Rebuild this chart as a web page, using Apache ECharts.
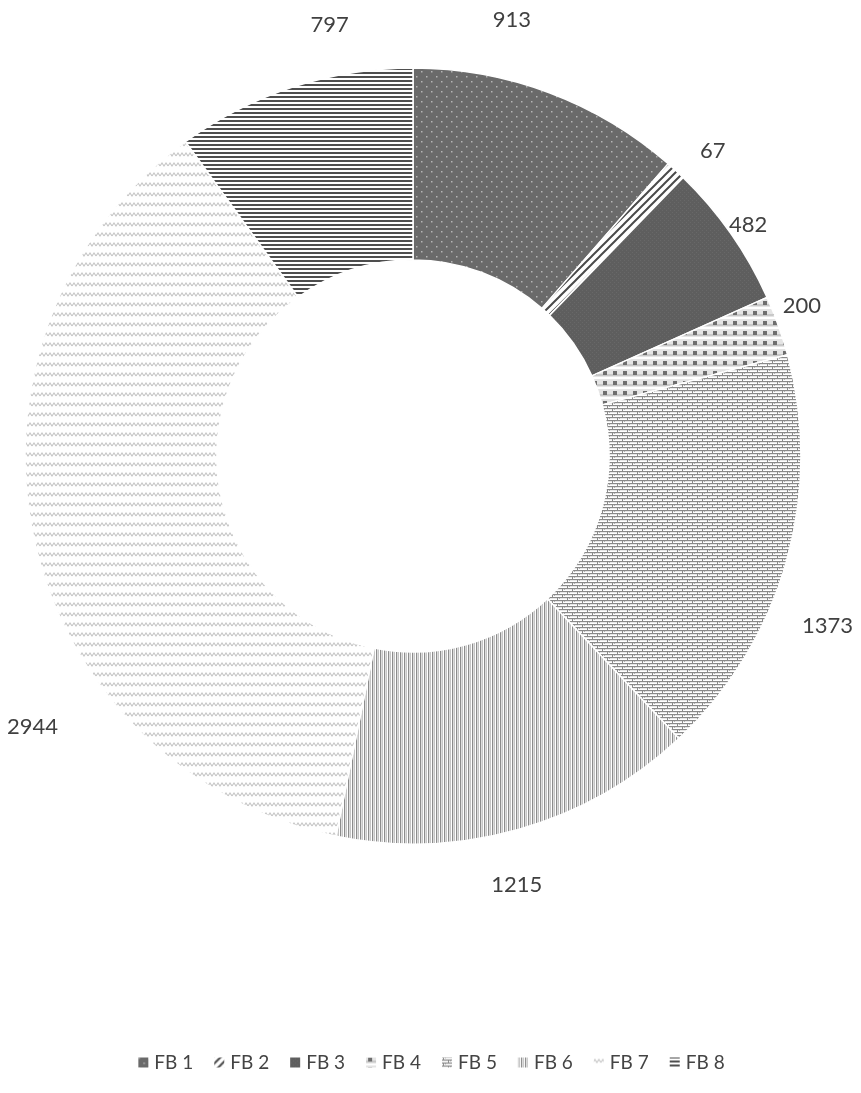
<!DOCTYPE html>
<html><head><meta charset="utf-8">
<script src="https://cdn.jsdelivr.net/npm/echarts@6/dist/echarts.min.js"></script>
<style>html,body{margin:0;padding:0;background:#fff}#c{width:861px;height:1093px}</style>
</head><body><div id="c"></div>
<script>
const categories = ['FB 1','FB 2','FB 3','FB 4','FB 5','FB 6','FB 7','FB 8'];
const values = [913, 67, 482, 200, 1373, 1215, 2944, 797];
// label placement tweaks (degrees shift from slice middle, distance from centre)
const labelAngleShift = [-7.8, 1.8, 0.4, -1.5, 6.5, 2.3, -23.2, 7.0];
const labelRadius = [447, 428, 407, 417, 448, 441, 467, 439];

function pat(w, h, bg, draw){
  const c = document.createElement('canvas'); c.width = w; c.height = h;
  const g = c.getContext('2d'); g.fillStyle = bg; g.fillRect(0,0,w,h); draw(g);
  return {image: c, repeat: 'repeat'};
}
const patterns = [
  pat(10, 10, '#6a6a6a', g => { g.fillStyle = '#b4b4b4'; g.fillRect(1,1,1.5,1.5); g.fillRect(6,6,1.5,1.5); }),
  pat(8, 8, '#ffffff', g => { g.strokeStyle = '#4a4a4a'; g.lineWidth = 2; g.beginPath(); g.moveTo(-2,10); g.lineTo(10,-2); g.moveTo(-2,2); g.lineTo(2,-2); g.moveTo(6,10); g.lineTo(10,6); g.stroke(); }),
  pat(4, 4, '#5e5e5e', g => { g.fillStyle = '#686868'; g.fillRect(0,0,1,1); g.fillRect(2,2,1,1); }),
  pat(10, 10, '#e4e4e4', g => { g.fillStyle = '#c8c8c8'; g.fillRect(0,4,10,2); g.fillStyle = '#6e6e6e'; g.fillRect(3,1,4,4); g.fillStyle = '#ffffff'; g.fillRect(0,7,10,2); }),
  pat(10, 6, '#ffffff', g => { g.fillStyle = '#8a8a8a'; g.fillRect(0,0,10,1.2); g.fillRect(0,3,10,1.2); g.fillRect(2,0,1,3); g.fillRect(7,3,1,3); g.fillStyle='#b0b0b0'; g.fillRect(4,1,1,1); g.fillRect(9,4,1,1); }),
  pat(4, 4, '#ffffff', g => { g.fillStyle = '#8c8c8c'; g.fillRect(0,0,1.3,4); g.fillStyle = '#b8b8b8'; g.fillRect(2,0,0.8,4); }),
  pat(8, 10, '#ffffff', g => { g.strokeStyle = '#c6c6c6'; g.lineWidth = 1.1; g.beginPath(); g.moveTo(0,6); g.lineTo(2,3); g.lineTo(4,6); g.lineTo(6,3); g.lineTo(8,6); g.stroke(); }),
  pat(4, 4, '#ffffff', g => { g.fillStyle = '#4e4e4e'; g.fillRect(0,0,4,2); })
];

const total = values.reduce((a,b)=>a+b,0);
const midAngles = [];
{ let acc = 0; values.forEach(v => { midAngles.push((acc + v/2) / total * 360); acc += v; }); }
const CX = 413, CY = 456;

const chart = echarts.init(document.getElementById('c'), null, {renderer:'canvas'});
chart.setOption({
  animation: false,
  backgroundColor: '#ffffff',
  textStyle: {fontFamily: 'Lato'},
  legend: {
    bottom: 16, left: 'center', itemWidth: 12, itemHeight: 12, itemGap: 19,
    icon: 'rect',
    textStyle: {fontFamily: 'Lato', fontSize: 19, color: '#444'},
    data: categories
  },
  series: [{
    type: 'pie',
    center: [CX, CY],
    radius: [196, 388],
    startAngle: 90,
    clockwise: true,
    avoidLabelOverlap: false,
    itemStyle: {borderColor: '#ffffff', borderWidth: 1.5},
    label: {show: true, position: 'outside', formatter: '{c}', fontFamily: 'Lato', fontSize: 22, color: '#404040'},
    labelLine: {show: false, length: 20, length2: 0},
    labelLayout: function (p) {
      const i = p.dataIndex;
      const a = (midAngles[i] + labelAngleShift[i]) * Math.PI / 180;
      return {x: CX + labelRadius[i] * Math.sin(a), y: CY - labelRadius[i] * Math.cos(a), align: 'center', verticalAlign: 'middle'};
    },
    data: categories.map((n, i) => ({name: n, value: values[i], itemStyle: {color: patterns[i]}}))
  }]
});
</script></body></html>
